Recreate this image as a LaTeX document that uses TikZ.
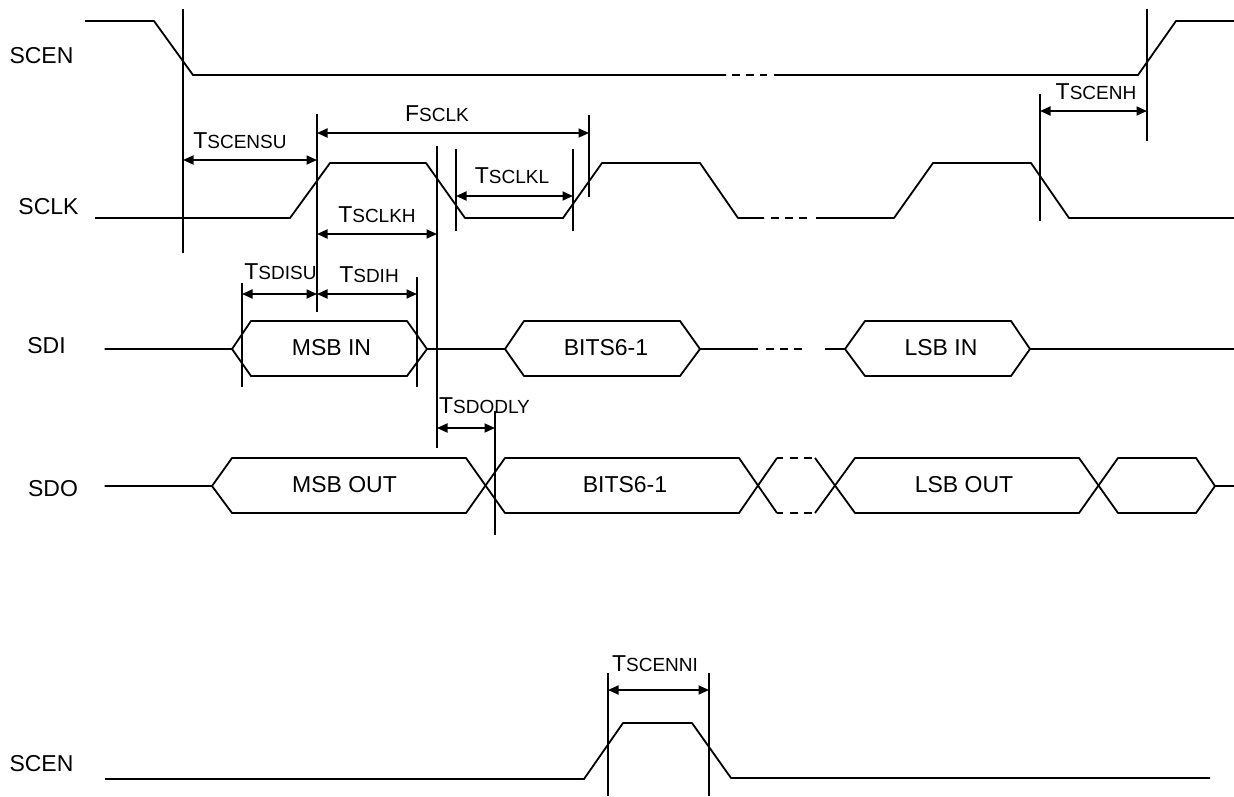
\documentclass[tikz,border=0pt]{standalone}
\usepackage{fontspec}
\setsansfont{Liberation Sans}
\usetikzlibrary{arrows.meta}
\newcommand{\tsub}[2]{#1{\fontsize{19}{19}\selectfont #2}}
\tikzset{%
  >={Triangle[width=9pt,length=10.5pt]},
  % Specifications for style of lines:
     wave/.style = {line width=1.8pt, line join=round},
    guide/.style = {line width=1.8pt},
    tspan/.style = {line width=1.8pt, <->},
      gap/.style = {wave, dash pattern=on 8pt off 6pt},
  busgap/.style = {wave, dash pattern=on 6pt off 7pt on 8pt off 6pt on 8pt off 6pt},
  % Specifications for style of nodes:
  signame/.style = {anchor=base, inner sep=0pt, font=\sffamily\fontsize{23}{23}\selectfont},
 timename/.style = {signame},
  busname/.style = {signame}
}
\begin{document}
\begin{tikzpicture}[x=1pt,y=-1pt]
  \useasboundingbox (0,0) rectangle (1234,796);

  % signal names
  \node (scenA) [signame] at (41.5,63)  {SCEN};
  \node (sclk)  [signame] at (48.5,214) {SCLK};
  \node (sdi)   [signame] at (46.5,353) {SDI};
  \node (sdo)   [signame] at (53,496)   {SDO};
  \node (scenB) [signame] at (41.5,771) {SCEN};

  % SCEN, top
  \draw[wave] (85,21) -- (154,21) -- (193,75) -- (726,75);
  \draw[gap]  (732,75) -- (767,75);
  \draw[wave] (774,75) -- (1138,75) -- (1176,21) -- (1234,21);

  % SCLK
  \draw[wave] (95,218) -- (290,218) -- (330,163) -- (426,163) -- (465,218) -- (563,218)
              -- (602,163) -- (700,163) -- (738,218) -- (764,218);
  \draw[gap]  (771,218) -- (807,218);
  \draw[wave] (816,218) -- (894,218) -- (933,163) -- (1031,163) -- (1069,218) -- (1234,218);

  % SDI
  \draw[wave] (104.5,349) -- (232,349) -- (251,321) -- (407,321) -- (427,349) -- (407,376)
              -- (251,376) -- (232,349);
  \draw[wave] (427,349) -- (505,349) -- (524,321) -- (680,321) -- (700,349) -- (680,376)
              -- (524,376) -- (505,349);
  \draw[wave] (700,349) -- (758,349);
  \draw[gap]  (766,349) -- (803,349);
  \draw[wave] (825,349) -- (845,349) -- (865,321) -- (1011,321) -- (1030,349) -- (1011,376)
              -- (865,376) -- (845,349);
  \draw[wave] (1030,349) -- (1234,349);

  % SDO
  \draw[wave] (104.5,486) -- (212,486) -- (232,458) -- (466,458) -- (505,513) -- (739,513)
              -- (777,458);
  \draw[wave] (212,486) -- (232,513) -- (466,513) -- (505,458) -- (739,458) -- (777,513);
  \draw[busgap] (777,458) -- (815,458);
  \draw[busgap] (777,513) -- (815,513);
  \draw[wave] (815,458) -- (855,513) -- (1079,513) -- (1118,458) -- (1196,458) -- (1215,486)
              -- (1234,486);
  \draw[wave] (815,513) -- (855,458) -- (1079,458) -- (1118,513) -- (1196,513) -- (1215,486);

  % SCEN, bottom
  \draw[wave] (105,779) -- (584,779) -- (623,723) -- (692,723) -- (731,778) -- (1210,778);

  % text on the buses
  \node (msbin)  [busname] at (331.5,355) {MSB IN};
  \node (bitsin) [busname] at (606,355)   {BITS6-1};
  \node (lsbin)  [busname] at (941,355)   {LSB IN};
  \node (msbout) [busname] at (344.5,492) {MSB OUT};
  \node (bitsout)[busname] at (625,492)   {BITS6-1};
  \node (lsbout) [busname] at (964,492)   {LSB OUT};

  % guide lines
  \draw[guide] (183,9) -- (183,253);
  \draw[guide] (1147,9) -- (1147,141);
  \draw[guide] (317,114) -- (317,312);
  \draw[guide] (437,146) -- (437,448);
  \draw[guide] (456,149) -- (456,231);
  \draw[guide] (573,149) -- (573,231);
  \draw[guide] (589,115) -- (589,197);
  \draw[guide] (1040,94) -- (1040,221);
  \draw[guide] (242,283) -- (242,387);
  \draw[guide] (417,277) -- (417,387);
  \draw[guide] (495,411) -- (495,535);
  \draw[guide] (608,673) -- (608,796);
  \draw[guide] (709,673) -- (709,796);

  % ends of the time spans
  \coordinate (censuL) at (183,160);  \coordinate (censuR) at (317,160);
  \coordinate (fsclkL) at (317,133);  \coordinate (fsclkR) at (589,133);
  \coordinate (clklL)  at (456,196);  \coordinate (clklR)  at (573,196);
  \coordinate (clkhL)  at (317,234);  \coordinate (clkhR)  at (437,234);
  \coordinate (cenhL)  at (1040,111); \coordinate (cenhR)  at (1147,111);
  \coordinate (disuL)  at (242,294);  \coordinate (disuR)  at (317,294);
  \coordinate (dihL)   at (317,294);  \coordinate (dihR)   at (417,294);
  \coordinate (dlyL)   at (437,428);  \coordinate (dlyR)   at (495,428);
  \coordinate (cnniL)  at (608,690);  \coordinate (cnniR)  at (709,690);

  \draw[tspan] (censuL) -- (censuR);
  \draw[tspan] (fsclkL) -- (fsclkR);
  \draw[tspan] (clklL) -- (clklR);
  \draw[tspan] (clkhL) -- (clkhR);
  \draw[tspan] (cenhL) -- (cenhR);
  \draw[tspan] (disuL) -- (disuR);
  \draw[tspan] (dihL) -- (dihR);
  \draw[tspan] (dlyL) -- (dlyR);
  \draw[tspan] (cnniL) -- (cnniR);

  % names of the time spans
  \node (tcensu) [timename] at (240,148)    {\tsub{T}{SCENSU}};
  \node (fsclk)  [timename] at (437,121)    {\tsub{F}{SCLK}};
  \node (tclkl)  [timename] at (512,183)    {\tsub{T}{SCLKL}};
  \node (tclkh)  [timename] at (377,222)    {\tsub{T}{SCLKH}};
  \node (tcenh)  [timename] at (1096,99)    {\tsub{T}{SCENH}};
  \node (tdisu)  [timename] at (280.5,279)  {\tsub{T}{SDISU}};
  \node (tdih)   [timename] at (369,282)    {\tsub{T}{SDIH}};
  \node (tdly)   [timename] at (484.5,413)  {\tsub{T}{SDODLY}};
  \node (tcnni)  [timename] at (655,671)    {\tsub{T}{SCENNI}};
\end{tikzpicture}
\end{document}
